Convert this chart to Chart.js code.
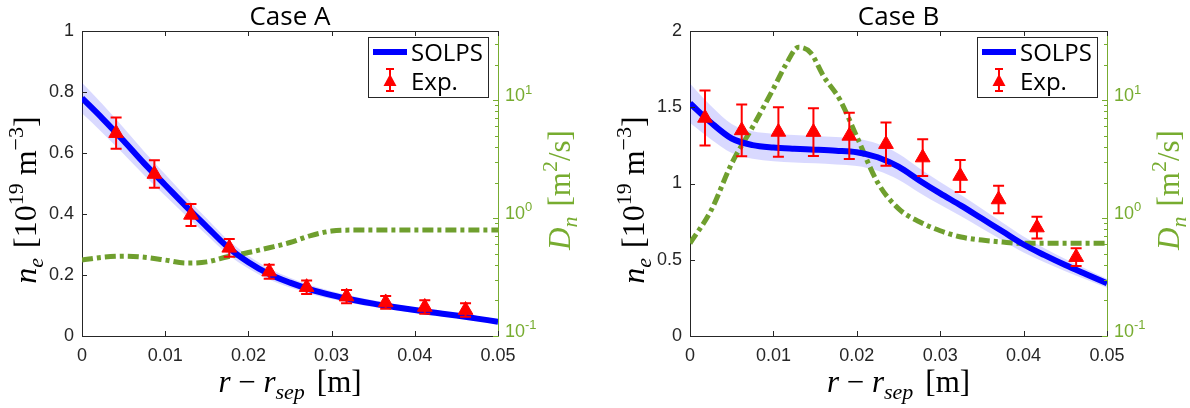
<!DOCTYPE html>
<html>
<head>
<meta charset="utf-8">
<script src="https://cdn.jsdelivr.net/npm/chart.js@4.4.1/dist/chart.umd.min.js"></script>
<style>
  body { margin: 0; background: #fff; }
  #wrap { position: relative; width: 1190px; height: 408px; }
  .pane { position: absolute; top: 0; width: 595px; height: 408px; }
</style>
</head>
<body>
<div id="wrap">
  <div class="pane" style="left:0"><canvas id="cA"></canvas></div>
  <div class="pane" style="left:595px"><canvas id="cB"></canvas></div>
</div>
<script>
// radial grid (m) used by the SOLPS profiles
var xGrid = [0, 0.0025, 0.005, 0.0075, 0.01, 0.0125, 0.015, 0.0175, 0.02, 0.0225, 0.025,
             0.0275, 0.03, 0.0325, 0.035, 0.0375, 0.04, 0.0425, 0.045, 0.0475, 0.05];
var xTicks = [0, 0.01, 0.02, 0.03, 0.04, 0.05];

// Case A
var solpsA = [0.780, 0.712, 0.640, 0.565, 0.495, 0.425, 0.358, 0.292, 0.242, 0.203, 0.175,
              0.152, 0.134, 0.119, 0.106, 0.095, 0.085, 0.076, 0.067, 0.057, 0.047];
var bandA  = [0.050, 0.047, 0.043, 0.039, 0.035, 0.031, 0.027, 0.024, 0.021, 0.018, 0.016,
              0.014, 0.013, 0.012, 0.011, 0.010, 0.009, 0.009, 0.008, 0.008, 0.008];
var dnXA   = xGrid;
var dnA    = [0.44, 0.465, 0.475, 0.465, 0.44, 0.415, 0.425, 0.47, 0.51, 0.56, 0.62,
              0.71, 0.775, 0.79, 0.79, 0.79, 0.79, 0.79, 0.79, 0.79, 0.79];
var expXA  = [0.0041, 0.0087, 0.0131, 0.0177, 0.0225, 0.0270, 0.0318, 0.0365, 0.0412, 0.0461];
var expA   = [0.665, 0.531, 0.397, 0.289, 0.211, 0.160, 0.129, 0.110, 0.095, 0.085];
var errA   = [0.051, 0.045, 0.036, 0.029, 0.023, 0.022, 0.022, 0.021, 0.022, 0.022];

// Case B
var solpsB = [1.526, 1.400, 1.295, 1.252, 1.236, 1.228, 1.222, 1.215, 1.205, 1.172, 1.110,
              1.020, 0.935, 0.855, 0.770, 0.685, 0.600, 0.530, 0.465, 0.405, 0.346];
var bandB  = [0.13, 0.11, 0.095, 0.09, 0.09, 0.09, 0.09, 0.09, 0.09, 0.088, 0.085,
              0.08, 0.075, 0.07, 0.065, 0.058, 0.052, 0.046, 0.04, 0.035, 0.03];
var dnXB   = [0, 0.0025, 0.005, 0.0075, 0.01, 0.0115, 0.013, 0.0145, 0.016, 0.018, 0.02,
              0.0225, 0.025, 0.0275, 0.03, 0.0325, 0.035, 0.0375, 0.04, 0.045, 0.05];
var dnB    = [0.61, 1.15, 2.9, 5.9, 12.5, 20, 28, 25, 16, 10, 4.9,
              2.0, 1.2, 0.93, 0.78, 0.69, 0.65, 0.625, 0.61, 0.61, 0.61];
var expXB  = [0.0018, 0.0062, 0.0106, 0.0148, 0.0191, 0.0235, 0.0279, 0.0324, 0.0370, 0.0416, 0.0463];
var expB   = [1.43, 1.348, 1.338, 1.337, 1.312, 1.258, 1.17, 1.049, 0.895, 0.711, 0.517];
var errB   = [0.18, 0.17, 0.162, 0.156, 0.152, 0.142, 0.12, 0.105, 0.09, 0.071, 0.058];

var dnTicks = [0.1, 1, 10];
var dnTickExp = ['-1', '0', '1'];

var AXIS = '#262626';
var GREEN = '#77ac30';
var DNLINE = '#6f9f2e';
var SANS = '"Liberation Sans", Arial, sans-serif';
var SERIF = '"Liberation Serif", "Times New Roman", serif';
var TITLEF = '"Open Sans", "Noto Sans", sans-serif';

function pts(xs, ys) {
    return xs.map(function (x, i) { return { x: x, y: ys[i] }; });
}

function plainNum(v) { return String(+Number(v).toFixed(4)); }

// text with sub/superscripts; align 'center' or 'left'
function richText(ctx, parts, x, y, size, fam, color, angle, align) {
    ctx.save();
    ctx.translate(x, y);
    ctx.rotate(angle || 0);
    ctx.fillStyle = color;
    ctx.textBaseline = 'alphabetic';
    ctx.textAlign = 'left';
    function fontOf(p) {
        var s = (p.sub || p.sup) ? Math.round(size * 0.7) : size;
        return (p.it ? 'italic ' : '') + s + 'px ' + fam;
    }
    var w = 0;
    parts.forEach(function (p) {
        ctx.font = fontOf(p);
        p._w = ctx.measureText(p.t).width + (p.gap || 0);
        w += p._w;
    });
    var cx = align === 'left' ? 0 : -w / 2;
    parts.forEach(function (p) {
        ctx.font = fontOf(p);
        var dy = p.sub ? size * 0.22 : (p.sup ? -size * 0.42 : 0);
        ctx.fillText(p.t, cx, dy);
        cx += p._w;
    });
    ctx.restore();
}

var decor = {
    id: 'decor',
    afterDatasetsDraw: function (chart) {
        // error bars on the Exp. points
        var ctx = chart.ctx, ds = chart.data.datasets[0];
        var xs = chart.scales.x, ys = chart.scales.y;
        ctx.save();
        ctx.strokeStyle = '#ff0000';
        ctx.lineWidth = 2;
        ds.data.forEach(function (p, i) {
            var e = ds.errors[i];
            var px = xs.getPixelForValue(p.x);
            var t = ys.getPixelForValue(p.y + e), b = ys.getPixelForValue(p.y - e);
            ctx.beginPath();
            ctx.moveTo(px, t); ctx.lineTo(px, b);
            ctx.moveTo(px - 5.5, t); ctx.lineTo(px + 5.5, t);
            ctx.moveTo(px - 5.5, b); ctx.lineTo(px + 5.5, b);
            ctx.stroke();
        });
        ctx.restore();
    },
    afterDraw: function (chart) {
        var ctx = chart.ctx, a = chart.chartArea, o = chart.options.plugins.decor;
        var xs = chart.scales.x, ys = chart.scales.y, y2 = chart.scales.y2;
        ctx.save();
        ctx.lineWidth = 1;
        // top box line
        ctx.strokeStyle = AXIS;
        ctx.beginPath();
        ctx.moveTo(a.left, Math.round(a.top) + 0.5); ctx.lineTo(a.right, Math.round(a.top) + 0.5);
        ctx.stroke();
        // inward x ticks (bottom and top)
        ctx.beginPath();
        xTicks.forEach(function (v) {
            var px = Math.round(xs.getPixelForValue(v)) + 0.5;
            ctx.moveTo(px, a.bottom); ctx.lineTo(px, a.bottom - 5);
            ctx.moveTo(px, a.top); ctx.lineTo(px, a.top + 5);
        });
        ys.ticks.forEach(function (t) {
            var py = Math.round(ys.getPixelForValue(t.value)) + 0.5;
            ctx.moveTo(a.left, py); ctx.lineTo(a.left + 5, py);
        });
        ctx.stroke();
        // log ticks on the right axis
        ctx.strokeStyle = GREEN;
        ctx.beginPath();
        [0.1, 1, 10].forEach(function (d) {
            for (var k = 1; k <= 9; k++) {
                var v = d * k;
                if (v > y2.max) break;
                var py = Math.round(y2.getPixelForValue(v)) + 0.5;
                ctx.moveTo(a.right, py); ctx.lineTo(a.right - (k === 1 ? 5 : 3), py);
            }
        });
        ctx.stroke();
        // right tick labels 10^n
        dnTicks.forEach(function (v, i) {
            richText(ctx, [{ t: '10' }, { t: dnTickExp[i], sup: 1 }],
                a.right + 7, y2.getPixelForValue(v) + 1, 18, SANS, GREEN, 0, 'left');
        });
        // title
        ctx.fillStyle = '#000';
        ctx.font = '26px ' + TITLEF;
        ctx.textAlign = 'center';
        ctx.textBaseline = 'alphabetic';
        ctx.fillText(o.title, (a.left + a.right) / 2, 25);
        // axis titles
        richText(ctx, [{ t: 'r', it: 1 }, { t: ' \u2212 ' }, { t: 'r', it: 1 }, { t: 'sep', it: 1, sub: 1, gap: 12 },
            { t: '[m]' }], (a.left + a.right) / 2, 392, 31, SERIF, '#000', 0);
        richText(ctx, [{ t: 'n', it: 1 }, { t: 'e', it: 1, sub: 1, gap: 10 }, { t: '[10' }, { t: '19', sup: 1, gap: 8 },
            { t: 'm' }, { t: '\u22123', sup: 1 }, { t: ']' }], a.left - 46, 200, 32, SERIF, '#000', -Math.PI / 2);
        richText(ctx, [{ t: 'D', it: 1 }, { t: 'n', it: 1, sub: 1, gap: 10 }, { t: '[m' }, { t: '2', sup: 1 },
            { t: '/s]' }], a.right + 72, 190, 31, SERIF, GREEN, -Math.PI / 2);
        // legend
        var bx = a.right - 130, by = a.top + 6;
        ctx.fillStyle = '#fff';
        ctx.fillRect(bx, by, 120, 60);
        ctx.strokeStyle = '#262626';
        ctx.strokeRect(bx + 0.5, by + 0.5, 120, 60);
        ctx.strokeStyle = '#0000ff';
        ctx.lineWidth = 6;
        ctx.beginPath();
        ctx.moveTo(bx + 5, by + 15); ctx.lineTo(bx + 39, by + 15);
        ctx.stroke();
        ctx.strokeStyle = '#ff0000';
        ctx.fillStyle = '#ff0000';
        ctx.lineWidth = 2;
        ctx.beginPath();
        ctx.moveTo(bx + 22, by + 32); ctx.lineTo(bx + 22, by + 54);
        ctx.moveTo(bx + 18, by + 32); ctx.lineTo(bx + 26, by + 32);
        ctx.moveTo(bx + 18, by + 54); ctx.lineTo(bx + 26, by + 54);
        ctx.stroke();
        ctx.beginPath();
        ctx.moveTo(bx + 22, by + 37); ctx.lineTo(bx + 28.5, by + 49); ctx.lineTo(bx + 15.5, by + 49);
        ctx.closePath();
        ctx.fill();
        ctx.fillStyle = '#000';
        ctx.font = '24px ' + TITLEF;
        ctx.textAlign = 'left';
        ctx.fillText('SOLPS', bx + 43, by + 24);
        ctx.fillText('Exp.', bx + 43, by + 53);
        ctx.restore();
    }
};

function makePanel(id, p) {
    var upper = p.solps.map(function (v, i) { return v + p.band[i]; });
    var lower = p.solps.map(function (v, i) { return v - p.band[i]; });
    return new Chart(document.getElementById(id), {
        type: 'line',
        data: {
            datasets: [
                { label: 'Exp.', data: pts(p.expX, p.exp), errors: p.err, showLine: false,
                  pointStyle: 'triangle', pointRadius: 8.5, pointBackgroundColor: '#ff0000',
                  pointBorderColor: '#ff0000', pointBorderWidth: 1, yAxisID: 'y' },
                { label: 'SOLPS', data: pts(xGrid, p.solps), borderColor: '#0000ff', borderWidth: 6,
                  pointRadius: 0, cubicInterpolationMode: 'monotone', yAxisID: 'y' },
                { label: 'Dn', data: pts(p.dnX, p.dn), borderColor: DNLINE, borderWidth: 5,
                  borderDash: [11, 4, 4, 4], pointRadius: 0, cubicInterpolationMode: 'monotone', yAxisID: 'y2' },
                { label: 'band+', data: pts(xGrid, upper), borderWidth: 0, borderColor: 'rgba(0,0,0,0)',
                  pointRadius: 0, backgroundColor: 'rgba(0,0,255,0.15)', fill: '+1',
                  cubicInterpolationMode: 'monotone', yAxisID: 'y' },
                { label: 'band-', data: pts(xGrid, lower), borderWidth: 0, borderColor: 'rgba(0,0,0,0)',
                  pointRadius: 0, cubicInterpolationMode: 'monotone', yAxisID: 'y' }
            ]
        },
        options: {
            responsive: true,
            maintainAspectRatio: false,
            animation: false,
            events: [],
            layout: { padding: { top: 31, left: 0, right: 0, bottom: 0 } },
            plugins: {
                legend: { display: false },
                tooltip: { enabled: false },
                decor: { title: p.title }
            },
            scales: {
                x: {
                    type: 'linear', min: 0, max: 0.05,
                    afterBuildTicks: function (s) { s.ticks = xTicks.map(function (v) { return { value: v }; }); },
                    grid: { display: false, drawTicks: false },
                    border: { color: AXIS, width: 1 },
                    ticks: { color: AXIS, font: { family: SANS, size: 18 }, padding: 9, maxRotation: 0,
                             autoSkip: false, callback: plainNum },
                    afterFit: function (s) { s.height = 72; }
                },
                y: {
                    type: 'linear', position: 'left', min: 0, max: p.yMax,
                    afterBuildTicks: function (s) { s.ticks = p.yTicks.map(function (v) { return { value: v }; }); },
                    grid: { display: false, drawTicks: false },
                    border: { color: AXIS, width: 1 },
                    ticks: { color: AXIS, font: { family: SANS, size: 18 }, padding: 8, callback: plainNum },
                    afterFit: function (s) { s.width = p.left; }
                },
                y2: {
                    type: 'logarithmic', position: 'right', min: 0.1, max: 38.5,
                    grid: { display: false, drawTicks: false },
                    border: { color: GREEN, width: 1 },
                    ticks: { display: false },
                    afterFit: function (s) { s.width = 595 - p.right; }
                }
            }
        },
        plugins: [decor]
    });
}

makePanel('cA', { title: 'Case A', solps: solpsA, band: bandA, dnX: dnXA, dn: dnA,
                  expX: expXA, exp: expA, err: errA, yMax: 1, yTicks: [0, 0.2, 0.4, 0.6, 0.8, 1],
                  left: 82, right: 498 });
makePanel('cB', { title: 'Case B', solps: solpsB, band: bandB, dnX: dnXB, dn: dnB,
                  expX: expXB, exp: expB, err: errB, yMax: 2, yTicks: [0, 0.5, 1, 1.5, 2],
                  left: 95, right: 512 });
</script>
</body>
</html>
